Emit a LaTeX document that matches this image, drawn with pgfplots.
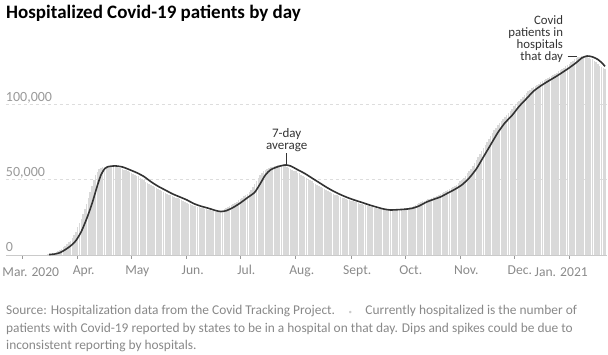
\documentclass[border=0pt]{standalone}
\usepackage{pgfplots}
\pgfplotsset{compat=1.18}
\usepackage{fontspec}
\setmainfont{Carlito}
\definecolor{linec}{HTML}{333333}
\definecolor{barc}{HTML}{D9D9D9}
\definecolor{tickc}{HTML}{999999}
\definecolor{labc}{HTML}{8A8A8A}
\definecolor{gridc}{HTML}{DDDDDD}
\definecolor{foot}{HTML}{888888}
\definecolor{dotc}{HTML}{CCCCCC}
\begin{document}
\begin{tikzpicture}
\path[use as bounding box] (0,0) rectangle (608pt,355pt);
\begin{axis}[
  at={(5.8pt,100pt)}, anchor=south west,
  scale only axis, width=601.2pt, height=215pt,
  xmin=-9.23, xmax=327.1, ymin=0, ymax=142.4,
  axis x line*=bottom, axis y line*=left,
  y axis line style={draw=none},
  x axis line style={draw=gridc!80!gray, line width=0.8pt},
  xtick={0,31,61,92,122,153,184,214,245,275,306},
  xticklabels={,Apr.,May,Jun.,Jul.,Aug.,Sept.,Oct.,Nov.,Dec.,},
  xtick align=outside, major tick length=4pt,
  xtick style={draw=tickc, line width=0.6pt},
  xticklabel style={font=\fontsize{13.6}{13.6}\selectfont, text=labc, anchor=base, inner sep=0pt, xshift=6pt, yshift=-16pt},
  ytick={0,50,100}, yticklabels={0,{50,000},{100,000}},
  ytick style={draw=none},
  yticklabel style={font=\fontsize{14}{14}\selectfont, text=tickc, anchor=base west, inner sep=0pt, yshift=3pt},
  ymajorgrids, grid style={gridc, dash pattern=on 3pt off 3pt, line width=0.6pt},
  clip=false,
]
\addplot[ycomb, draw=barc, line width=1.5pt, mark=none] table {
d v
14 0.5
15 0.6
16 0.9
17 1.2
18 1.5
19 2.2
20 2.8
21 3.5
22 4.3
23 5.2
24 6
25 7.2
26 8.3
27 9.5
28 11.5
29 13.5
30 15.5
31 18.3
32 21.2
33 24
34 27.3
35 30.7
36 34
37 38
38 42
39 46
40 49.5
41 53
42 55
43 57
44 57.8
45 58.5
46 58.6
47 58.8
48 58.9
49 59
50 58.8
51 58.7
52 58.5
53 58.3
54 57.9
55 57.4
56 57
57 56.5
58 56
59 55.5
60 55
61 54.5
62 53.9
63 53.3
64 52.6
65 52
66 51.1
67 50.3
68 49.4
69 48.5
70 47.8
71 47
72 46.3
73 45.5
74 44.9
75 44.3
76 43.6
77 43
78 42.4
79 41.8
80 41.1
81 40.5
82 40
83 39.5
84 39
85 38.5
86 38
87 37.5
88 37
89 36.5
90 35.9
91 35.3
92 34.6
93 34
94 33.6
95 33.2
96 32.7
97 32.3
98 32
99 31.6
100 31.3
101 31
102 30.6
103 30.3
104 29.9
105 29.5
106 29.3
107 29
108 28.8
109 29
110 29.1
111 29.3
112 29.8
113 30.4
114 30.9
115 31.5
116 32.3
117 33
118 33.8
119 34.5
120 35.4
121 36.3
122 37.1
123 38
124 38.9
125 39.8
126 40.6
127 41.5
128 43.3
129 45.2
130 47
131 49
132 51
133 53
134 54.2
135 55.3
136 56.5
137 57
138 57.5
139 58
140 58.5
141 58.8
142 59.1
143 59.3
144 59.6
145 59.4
146 59.2
147 59
148 58.4
149 57.8
150 57.1
151 56.5
152 55.9
153 55.3
154 54.6
155 54
156 53.3
157 52.5
158 51.8
159 51
160 50.3
161 49.5
162 48.8
163 48
164 47.3
165 46.5
166 45.8
167 45
168 44.3
169 43.7
170 43
171 42.3
172 41.7
173 41.2
174 40.6
175 40
176 39.5
177 39
178 38.5
179 38
180 37.6
181 37.2
182 36.7
183 36.3
184 35.9
185 35.6
186 35.2
187 34.8
188 34.4
189 34
190 33.6
191 33.2
192 32.9
193 32.5
194 32.2
195 31.8
196 31.5
197 31.2
198 30.8
199 30.5
200 30.3
201 30.2
202 30
203 29.8
204 29.9
205 29.9
206 30
207 30
208 30.1
209 30.2
210 30.2
211 30.3
212 30.5
213 30.6
214 30.8
215 30.9
216 31.3
217 31.7
218 32.1
219 32.5
220 33.1
221 33.8
222 34.4
223 35
224 35.5
225 35.9
226 36.4
227 36.8
228 37.2
229 37.7
230 38.1
231 38.5
232 39.1
233 39.8
234 40.4
235 41
236 41.6
237 42.3
238 42.9
239 43.5
240 44.3
241 45
242 45.8
243 46.5
244 47.6
245 48.8
246 49.9
247 51
248 52.5
249 54
250 55.5
251 57
252 59
253 61
254 63
255 65
256 67
257 69
258 71
259 73
260 75
261 77
262 79
263 81
264 82.6
265 84.3
266 85.9
267 87.5
268 88.8
269 90
270 91.3
271 92.5
272 94
273 95.5
274 97
275 98.5
276 99.8
277 101
278 102.3
279 103.5
280 104.8
281 106
282 107.3
283 108.5
284 109.4
285 110.3
286 111.1
287 112
288 112.8
289 113.5
290 114.3
291 115
292 115.7
293 116.4
294 117.1
295 117.8
296 118.6
297 119.3
298 120.1
299 120.8
300 121.6
301 122.4
302 123.2
303 124
304 124.9
305 125.8
306 126.6
307 127.5
308 128.5
309 129.5
310 130.5
311 131
312 131.4
313 131.8
314 131.6
315 131.4
316 131.2
317 130.6
318 130.1
319 129.5
320 128.5
321 127.5
322 126.3
323 125.2
324 124.5
325 124
326 123.5
};
\addplot[smooth, tension=0.4, draw=linec, line width=1.6pt, mark=none] coordinates {
(15,0.3) (18,0.6) (21,1.5) (24,3.5) (27,6) (30,9.5) (33,15.5) (36,24) (39,34) (42,46) (44,53) (46,57) (48,58.5) (52,59) (56,58.3) (60,56.5) (64,54.5) (68,52) (72,48.5) (76,45.5) (80,43) (84,40.5) (88,38.5) (92,36.5) (96,34) (100,32.3) (104,31) (108,29.5) (111,28.8) (114,29.3) (118,31.5) (122,34.5) (126,38) (130,41.5) (133,47) (136,53) (139,56.5) (143,58.5) (147,59.6) (150,59) (154,56.5) (158,54) (162,51) (166,48) (170,45) (174,42.3) (178,40) (182,38) (186,36.3) (190,34.8) (194,33.2) (198,31.8) (202,30.5) (206,29.8) (210,30) (214,30.3) (218,30.9) (222,32.5) (226,35) (230,36.8) (234,38.5) (238,41) (242,43.5) (246,46.5) (250,51) (254,57) (258,65) (262,73) (266,81) (270,87.5) (274,92.5) (278,98.5) (282,103.5) (286,108.5) (290,112) (294,115) (298,117.8) (302,120.8) (306,124) (310,127.5) (313,130.5) (316,131.8) (319,131.2) (322,129.5) (324,127.5) (326,125)
};
% tick labels at the ends
\node[font=\fontsize{13.6}{13.6}\selectfont, text=labc, anchor=base, inner sep=0pt] at (axis cs:4.75,0) [yshift=-21.5pt] {Mar. 2020};
\node[font=\fontsize{13.6}{13.6}\selectfont, text=labc, anchor=base, inner sep=0pt] at (axis cs:301.5,0) [yshift=-21.5pt] {Jan. 2021};
% annotations
\draw[linec, line width=0.8pt] (axis cs:147.9,59.8) -- (axis cs:147.9,67.5);
\node[font=\fontsize{13}{12}\selectfont, text=linec, anchor=south, align=center, inner sep=1.5pt] at (axis cs:147.9,67.5) {7-day\\average};
\draw[linec, line width=0.8pt] (axis cs:305.1,131.8) -- (axis cs:310.1,131.8);
\node[font=\fontsize{12.8}{12}\selectfont, text=linec, anchor=south east, align=right, inner sep=0pt] at (axis cs:302.6,127.5) {Covid\\patients in\\hospitals\\that day};
\end{axis}
\node[anchor=base west, inner sep=0pt, font=\fontsize{19}{21}\selectfont\bfseries, text=black] at (6pt,336.5pt) {Hospitalized Covid-19 patients by day};
\node[anchor=base west, inner sep=0pt, font=\fontsize{13.4}{15}\selectfont, text=foot] at (6pt,40pt) {Source: Hospitalization data from the Covid Tracking Project.\quad{\color{dotc}\raisebox{0.5pt}{\scriptsize •}}\quad Currently hospitalized is the number of};
\node[anchor=base west, inner sep=0pt, font=\fontsize{13.4}{15}\selectfont, text=foot] at (6pt,22.5pt) {patients with Covid-19 reported by states to be in a hospital on that day. Dips and spikes could be due to};
\node[anchor=base west, inner sep=0pt, font=\fontsize{13.4}{15}\selectfont, text=foot] at (6pt,5pt) {inconsistent reporting by hospitals.};
\end{tikzpicture}
\end{document}
